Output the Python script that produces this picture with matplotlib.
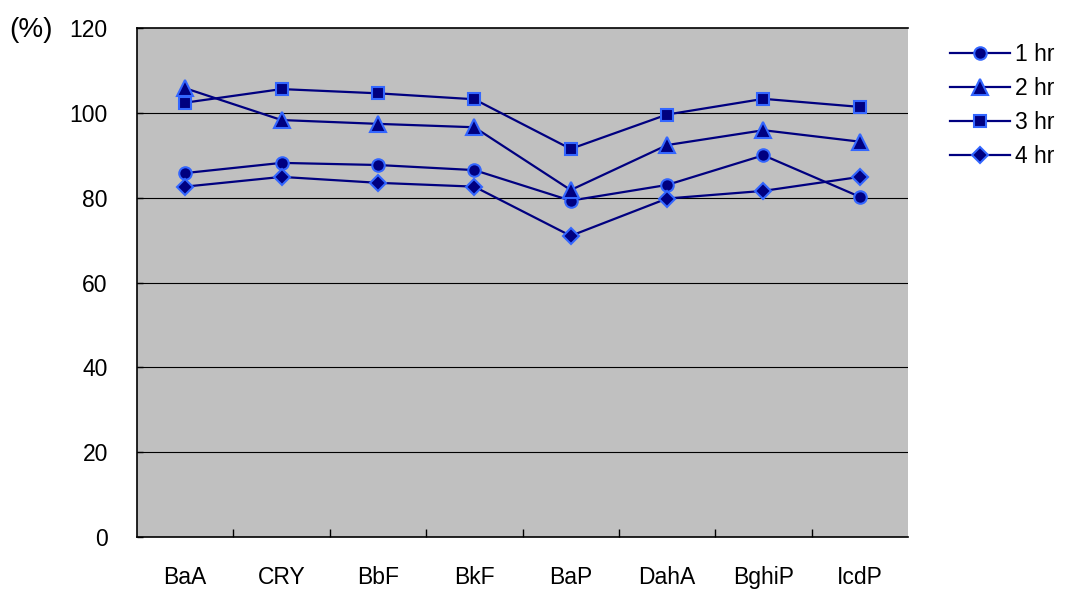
import matplotlib.pyplot as plt

plt.rcParams['font.family'] = ['Liberation Sans', 'DejaVu Sans']
plt.rcParams['font.size'] = 16.5

# data (%)
compounds = ['BaA', 'CRY', 'BbF', 'BkF', 'BaP', 'DahA', 'BghiP', 'IcdP']
hr1 = [85.8, 88.2, 87.7, 86.5, 79.3, 83.0, 90.0, 80.2]
hr2 = [105.8, 98.3, 97.4, 96.6, 81.8, 92.4, 95.9, 93.2]
hr3 = [102.4, 105.6, 104.6, 103.2, 91.5, 99.6, 103.3, 101.4]
hr4 = [82.6, 84.9, 83.5, 82.6, 71.0, 79.8, 81.6, 84.9]
series_labels = ['1 hr', '2 hr', '3 hr', '4 hr']
yticks = [0, 20, 40, 60, 80, 100, 120]

fig = plt.figure(figsize=(10.67, 5.92), dpi=100)
ax = fig.add_axes([0.1284, 0.0929, 0.7226, 0.8598])
ax.set_facecolor('#c0c0c0')

x = range(len(compounds))
markers = ['o', '^', 's', 'D']
sizes = [9, 11, 9, 8.5]
for vals, lab, m, s in zip([hr1, hr2, hr3, hr4], series_labels, markers, sizes):
    ax.plot(x, vals, color='#000080', lw=1.6, marker=m, ms=s,
            mfc='#000080', mec='#3366ff', mew=1.5, label=lab, zorder=3)

ax.set_xlim(-0.5, len(compounds) - 0.5)
ax.set_ylim(0, 120)
ax.set_yticks(yticks)
ax.set_xticks(list(x))
ax.set_xticklabels(compounds)
ax.set_xticks([i + 0.5 for i in range(len(compounds) - 1)], minor=True)
ax.tick_params(axis='x', which='major', length=0, pad=21)
ax.tick_params(axis='x', which='minor', direction='in', length=6, width=1)
ax.tick_params(axis='y', direction='in', length=4, width=1, pad=21)
for yl in yticks[1:-1]:
    ax.axhline(yl, color='black', lw=0.8, zorder=1)

ax.spines['right'].set_visible(False)
for sp in ['left', 'bottom', 'top']:
    ax.spines[sp].set_linewidth(1.2)
    ax.spines[sp].set_color('black')

fig.text(0.009, 0.95, '(%)', fontsize=20, va='center')

ax.legend(loc='upper left', bbox_to_anchor=(1.043, 0.989), frameon=False,
          handlelength=2.6, handletextpad=0.2, labelspacing=0.48,
          fontsize=16.5, borderaxespad=0)

fig.savefig('out.png', dpi=100)
